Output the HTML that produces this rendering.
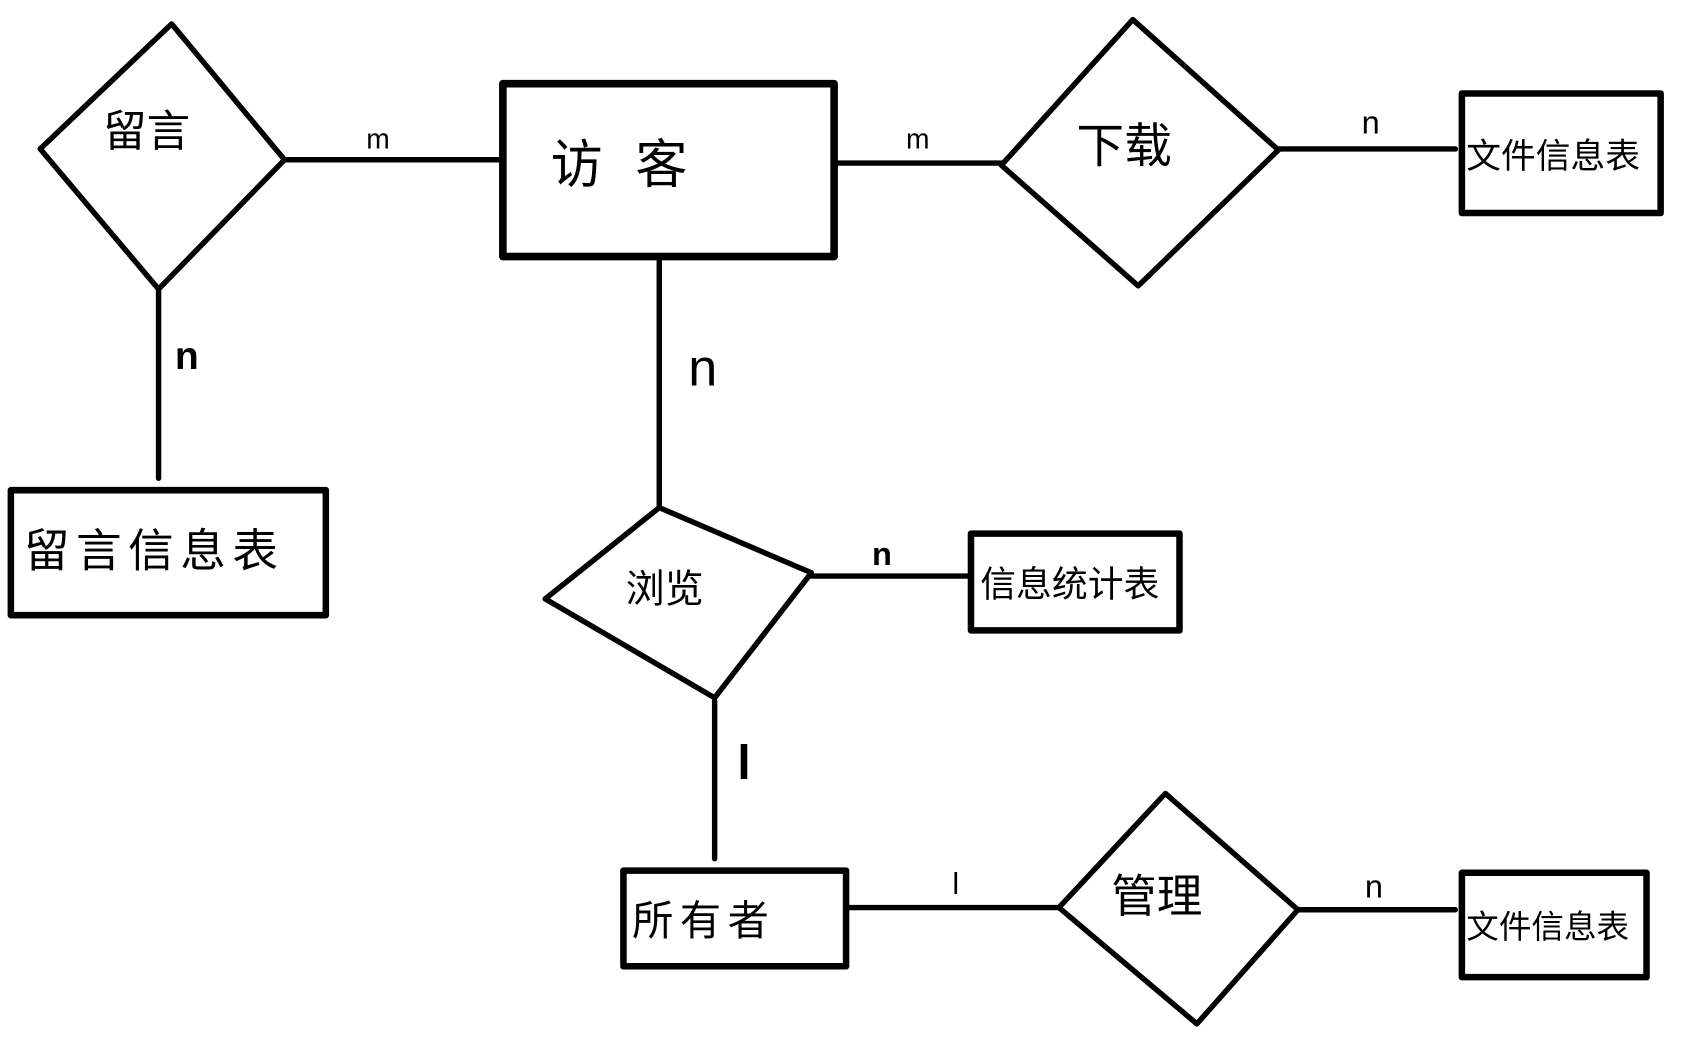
<!DOCTYPE html>
<html><head><meta charset="utf-8"><style>
html,body{margin:0;padding:0;background:#fff;}
svg{display:block}
text{font-family:"Liberation Sans","Noto Sans CJK SC",sans-serif;fill:#000;text-anchor:middle;dominant-baseline:middle}
</style></head><body>
<svg width="1703" height="1038" viewBox="0 0 1568 955" preserveAspectRatio="none" xmlns="http://www.w3.org/2000/svg">
<g fill="none" stroke="#000" stroke-width="5" stroke-linejoin="round" stroke-linecap="round">
<polygon points="158,22 262,147 146,266 37,137"/>
<line x1="262" y1="147" x2="460" y2="147"/>
<rect x="463" y="77" width="305" height="159" stroke-width="7"/>
<line x1="768" y1="150" x2="922" y2="150"/>
<polygon points="1043,18 1177,138 1048,263 922,152"/>
<line x1="1177" y1="137" x2="1340" y2="137"/>
<rect x="1346" y="86" width="183" height="110" stroke-width="6"/>
<line x1="146" y1="266" x2="146" y2="440"/>
<rect x="10" y="451" width="290" height="115" stroke-width="6"/>
<line x1="607" y1="240" x2="607" y2="467"/>
<polygon points="607,467 747,527 658,642 502,551"/>
<line x1="747" y1="530" x2="892" y2="530"/>
<rect x="894" y="491" width="192" height="89" stroke-width="6"/>
<line x1="658" y1="645" x2="658" y2="790"/>
<rect x="574" y="801" width="205" height="88" stroke-width="6"/>
<line x1="780" y1="835" x2="975" y2="835"/>
<polygon points="1073,730 1195,837 1102,942 975,835"/>
<line x1="1195" y1="837" x2="1340" y2="837"/>
<rect x="1346" y="803" width="170" height="96" stroke-width="6"/>
</g>
<text x="135" y="124" font-size="40">留言</text>
<text x="585" y="155" font-size="48" letter-spacing="30">访客</text>
<text x="1035" y="138" font-size="44">下载</text>
<text x="1430" y="146" font-size="32">文件信息表</text>
<text x="142" y="510" font-size="42" letter-spacing="6">留言信息表</text>
<text x="612" y="545" font-size="36">浏览</text>
<text x="985" y="540" font-size="33">信息统计表</text>
<text x="648" y="850" font-size="38" letter-spacing="6">所有者</text>
<text x="1065" y="828" font-size="42">管理</text>
<text x="1425" y="855" font-size="30">文件信息表</text>
<text x="348" y="130" font-size="26">m</text>
<text x="845" y="130" font-size="26">m</text>
<text x="1262" y="115" font-size="30">n</text>
<text x="172" y="330" font-size="36" font-weight="bold">n</text>
<text x="647" y="342" font-size="48">n</text>
<text x="812" y="512" font-size="30" font-weight="bold">n</text>
<text x="685" y="705" font-size="44" font-weight="bold">l</text>
<text x="880" y="815" font-size="28">l</text>
<text x="1265" y="818" font-size="30">n</text>
</svg>
</body></html>
